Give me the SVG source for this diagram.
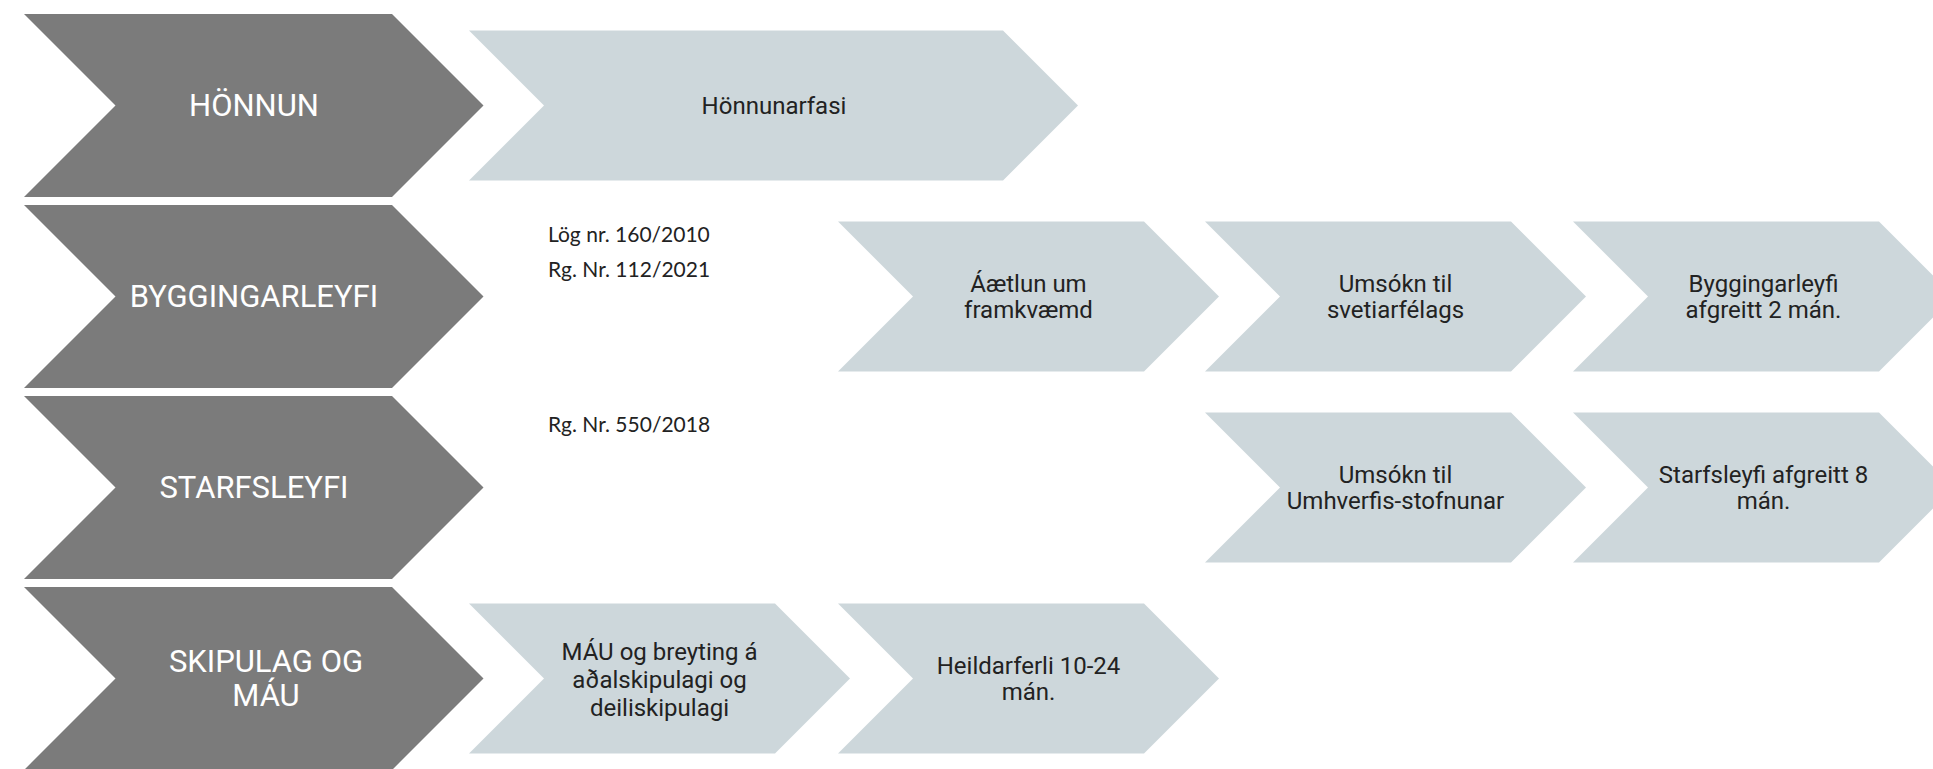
<svg xmlns="http://www.w3.org/2000/svg" width="1933" height="769" viewBox="0 0 1933 769">
<style>
.g{fill:#7b7b7b}
.l{fill:#cdd7db}
.gt{font-family:Roboto,"Liberation Sans",sans-serif;font-size:31px;fill:#ffffff;text-anchor:middle}
.lt{font-family:Roboto,"Liberation Sans",sans-serif;font-size:24px;fill:#222222;text-anchor:middle}
.note{font-family:Lato,"Liberation Sans",sans-serif;font-size:21px;fill:#222222}
</style>
<rect width="1933" height="769" fill="#ffffff"/>
<g id="row-honnun">
<path class="g" d="M24,14 L392,14 L483.5,105.5 L392,197 L24,197 L115.5,105.5 Z"/>
<text class="gt" x="254" y="116">HÖNNUN</text>
</g>
<g id="row-byggingarleyfi">
<path class="g" d="M24,205 L392,205 L483.5,296.5 L392,388 L24,388 L115.5,296.5 Z"/>
<text class="gt" x="254" y="307">BYGGINGARLEYFI</text>
</g>
<g id="row-starfsleyfi">
<path class="g" d="M24,396 L392,396 L483.5,487.5 L392,579 L24,579 L115.5,487.5 Z"/>
<text class="gt" x="254" y="498">STARFSLEYFI</text>
</g>
<g id="row-skipulag">
<path class="g" d="M24,587 L392,587 L483.5,678.5 L392,770 L24,770 L115.5,678.5 Z"/>
<text class="gt" x="266" y="672">SKIPULAG OG</text>
<text class="gt" x="266" y="706">MÁU</text>
</g>
<g id="honnunarfasi">
<path class="l" d="M469,30.5 L1003,30.5 L1078,105.5 L1003,180.5 L469,180.5 L544,105.5 Z"/>
<text class="lt" x="774" y="114">Hönnunarfasi</text>
</g>
<g id="log-text">
<text class="note" x="548" y="242">Lög nr. 160/2010</text>
<text class="note" x="548" y="277">Rg. Nr. 112/2021</text>
</g>
<g id="aetlun">
<path class="l" d="M838,221.5 L1144,221.5 L1219,296.5 L1144,371.5 L838,371.5 L913,296.5 Z"/>
<text class="lt" x="1028.5" y="292">Áætlun um</text>
<text class="lt" x="1028.5" y="318">framkvæmd</text>
</g>
<g id="umsokn-sveitarfelag">
<path class="l" d="M1205,221.5 L1511,221.5 L1586,296.5 L1511,371.5 L1205,371.5 L1280,296.5 Z"/>
<text class="lt" x="1395.5" y="292">Umsókn til</text>
<text class="lt" x="1395.5" y="318">svetiarfélags</text>
</g>
<g id="byggingarleyfi-afgreitt">
<path class="l" d="M1573,221.5 L1879,221.5 L1954,296.5 L1879,371.5 L1573,371.5 L1648,296.5 Z"/>
<text class="lt" x="1763.5" y="292">Byggingarleyfi</text>
<text class="lt" x="1763.5" y="318">afgreitt 2 mán.</text>
</g>
<g id="rg-text">
<text class="note" x="548" y="432">Rg. Nr. 550/2018</text>
</g>
<g id="umsokn-umhverfis">
<path class="l" d="M1205,412.5 L1511,412.5 L1586,487.5 L1511,562.5 L1205,562.5 L1280,487.5 Z"/>
<text class="lt" x="1395.5" y="483">Umsókn til</text>
<text class="lt" x="1395.5" y="509">Umhverfis-stofnunar</text>
</g>
<g id="starfsleyfi-afgreitt">
<path class="l" d="M1573,412.5 L1879,412.5 L1954,487.5 L1879,562.5 L1573,562.5 L1648,487.5 Z"/>
<text class="lt" x="1763.5" y="483">Starfsleyfi afgreitt 8</text>
<text class="lt" x="1763.5" y="509">mán.</text>
</g>
<g id="mau-breyting">
<path class="l" d="M469,603.5 L775,603.5 L850,678.5 L775,753.5 L469,753.5 L544,678.5 Z"/>
<text class="lt" x="659.5" y="660">MÁU og breyting á</text>
<text class="lt" x="659.5" y="688">aðalskipulagi og</text>
<text class="lt" x="659.5" y="716">deiliskipulagi</text>
</g>
<g id="heildarferli">
<path class="l" d="M838,603.5 L1144,603.5 L1219,678.5 L1144,753.5 L838,753.5 L913,678.5 Z"/>
<text class="lt" x="1028.5" y="674">Heildarferli 10-24</text>
<text class="lt" x="1028.5" y="700">mán.</text>
</g>
<g id="connectors"></g>
</svg>
